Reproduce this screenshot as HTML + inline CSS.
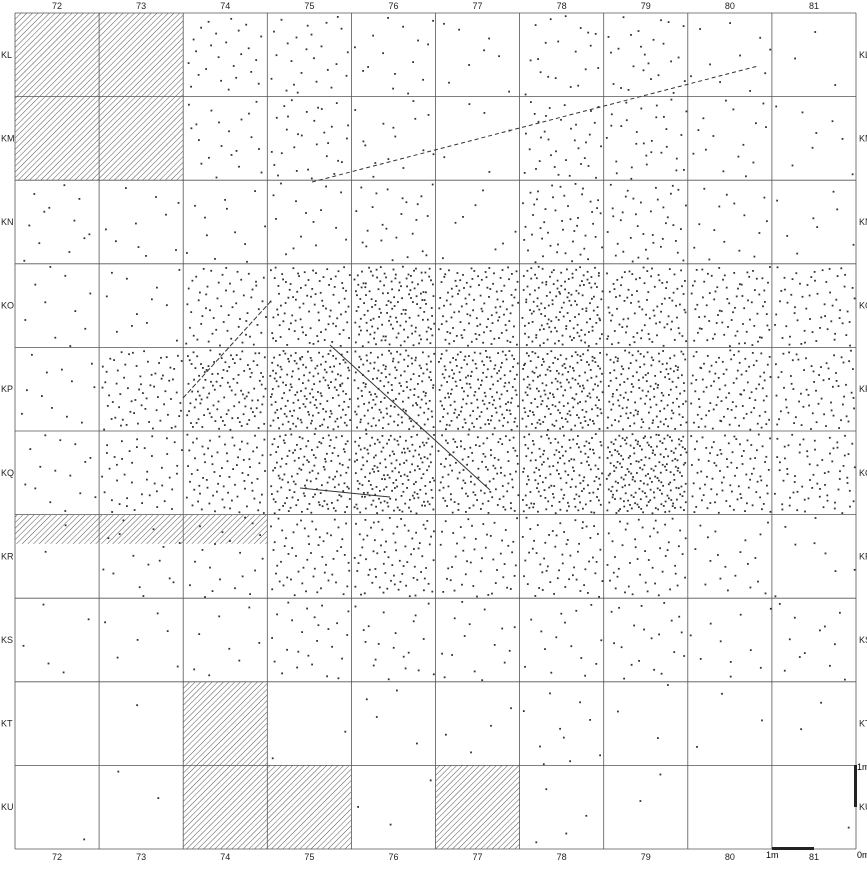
<!DOCTYPE html>
<html><head><meta charset="utf-8">
<style>
body{margin:0;background:#fff;}
svg{display:block;font-family:"Liberation Sans",sans-serif;}
</style></head>
<body>
<svg id="plan" width="867" height="883" viewBox="0 0 867 883">
<defs>
<pattern id="hatch" width="4" height="4" patternUnits="userSpaceOnUse" patternTransform="rotate(45)">
<line x1="0" y1="0" x2="0" y2="4" stroke="#555" stroke-width="1"/>
</pattern>
</defs>
<g id="hatched"></g>
<g id="grid"></g>
<g id="pts" fill="#333"></g>
<g id="lines" stroke="#333" fill="none"></g>
<g id="labels" font-size="9" fill="#222"></g>
<g>
<rect x="772" y="847" width="42" height="3" fill="#222"/>
<rect x="854" y="765" width="3" height="42" fill="#222"/>
<text x="766" y="858" font-size="9">1m</text>
<text x="857" y="858" font-size="9">0m</text>
<text x="857" y="770" font-size="9">1m</text>
</g>
</svg>
<script>
const cols=["72","73","74","75","76","77","78","79","80","81"];
const rows=["KL","KM","KN","KO","KP","KQ","KR","KS","KT","KU"];
const density=[
[0,0,25,25,15,8,20,25,10,3],
[0,0,20,30,15,5,35,30,15,8],
[12,10,12,15,25,8,50,40,15,8],
[10,12,60,100,150,120,150,100,80,60],
[12,70,120,170,160,170,180,150,100,70],
[15,45,80,140,170,120,150,200,90,70],
[2,15,20,60,80,50,60,50,20,8],
[5,6,8,25,20,15,15,20,10,12],
[0,1,0,2,4,4,10,3,3,2],
[1,2,0,0,3,0,4,2,0,1]];
const hatchCells=[[0,0],[0,1],[1,0],[1,1],[8,2],[9,2],[9,3],[9,5]];
const hatchStrip=[6,0,3,0.35];
const featureLines=[[312,182,758,66,"4,3"],[183,398,272,300,"5,2"],[330,345,490,490,""],[300,488,390,497,""]];
const X0=15,X1=856,Y0=13,Y1=849;
const cw=(X1-X0)/10,rh=(Y1-Y0)/10;
const xs=c=>X0+c*cw, ys=r=>Y0+r*rh;
const NS="http://www.w3.org/2000/svg";
function mk(t,a,p){const e=document.createElementNS(NS,t);for(const k in a)e.setAttribute(k,a[k]);p.appendChild(e);return e;}
const H=document.getElementById('hatched');
hatchCells.forEach(([r,c])=>{
 const e=mk('rect',{x:xs(c),y:ys(r),width:cw,height:rh,fill:'url(#hatch)'},H);
 
 
});
{const e=mk('rect',{x:xs(hatchStrip[1]),y:ys(hatchStrip[0]),width:cw*(hatchStrip[2]-hatchStrip[1]),height:rh*hatchStrip[3],fill:'url(#hatch)'},H);
 
 }
const G=document.getElementById('grid');
for(let i=0;i<=10;i++){
 const v=mk('line',{x1:xs(i),y1:Y0,x2:xs(i),y2:Y1,stroke:'#555','stroke-width':0.8},G);
 
 
 const h=mk('line',{x1:X0,y1:ys(i),x2:X1,y2:ys(i),stroke:'#555','stroke-width':0.8},G);
 
 
}
function halton(i,b){let f=1,r=0;while(i>0){f/=b;r+=f*(i%b);i=Math.floor(i/b);}return r;}
const P=document.getElementById('pts');
let seq=1;
density.forEach((row,r)=>row.forEach((n,c)=>{
 for(let k=0;k<n;k++){
  const u=halton(seq,2),v=halton(seq,3);seq++;
  const e=mk('rect',{x:(xs(c)+2+u*(cw-4)).toFixed(1),y:(ys(r)+2+v*(rh-4)).toFixed(1),width:1.8,height:1.8},P);
  
  
 }
}));
const L=document.getElementById('lines');
featureLines.forEach(([a,b,c,d,da])=>{
 const e=mk('line',{x1:a,y1:b,x2:c,y2:d,'stroke-width':1,'stroke-dasharray':da},L);
 
 
});
const T=document.getElementById('labels');
cols.forEach((s,i)=>{
 const a=mk('text',{x:xs(i)+cw/2,y:9,'text-anchor':'middle'},T);a.textContent=s;
 
 
 const b=mk('text',{x:xs(i)+cw/2,y:860,'text-anchor':'middle'},T);b.textContent=s;
 
 
});
rows.forEach((s,i)=>{
 const a=mk('text',{x:1,y:ys(i)+rh/2+3},T);a.textContent=s;
 
 
 const b=mk('text',{x:859,y:ys(i)+rh/2+3},T);b.textContent=s;
 
 
});
</script>
</body></html>
